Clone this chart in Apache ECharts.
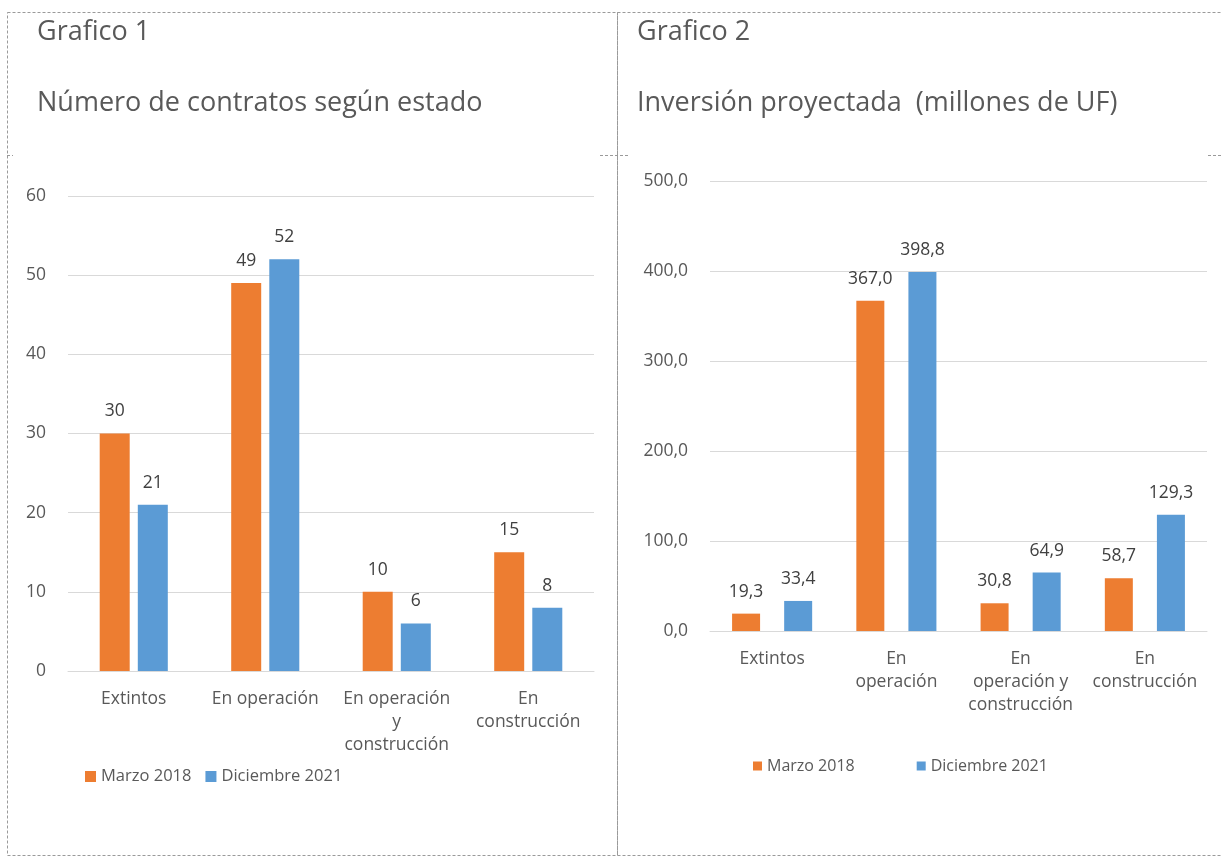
<!DOCTYPE html>
<html>
<head>
<meta charset="utf-8">
<script src="https://cdn.jsdelivr.net/npm/echarts@6/dist/echarts.min.js"></script>
<style>
html,body{margin:0;padding:0;background:#fff;}
#main{width:1221px;height:860px;}
</style>
</head>
<body>
<div id="main"></div>
<script>
// ---- data ----
var seriesNames = ['Marzo 2018', 'Diciembre 2021'];
var categories1 = ['Extintos', 'En operación', 'En operación y construcción', 'En construcción'];
var catLabels1 = ['Extintos', 'En operación', 'En operación\ny\nconstrucción', 'En\nconstrucción'];
var contratosMarzo2018 = [30, 49, 10, 15];
var contratosDic2021 = [21, 52, 6, 8];
var yTicks1 = [0, 10, 20, 30, 40, 50, 60];

var categories2 = ['Extintos', 'En operación', 'En operación y construcción', 'En construcción'];
var catLabels2 = ['Extintos', 'En\noperación', 'En\noperación y\nconstrucción', 'En\nconstrucción'];
var inversionMarzo2018 = [19.3, 367.0, 30.8, 58.7];
var inversionDic2021 = [33.4, 398.8, 64.9, 129.3];
var yTicks2 = [0, 100, 200, 300, 400, 500];

var titles = ['Grafico 1', 'Número de contratos según estado', 'Grafico 2', 'Inversión proyectada  (millones de UF)'];

// ---- chart ----
var FONT = '"Open Sans", "Noto Sans", sans-serif';
var ORANGE = '#ED7D31', BLUE = '#5B9BD5';
var TXT = '#595959';
var comma1 = function (v) { return Number(v).toFixed(1).replace('.', ','); };

var chart = echarts.init(document.getElementById('main'), null, {renderer: 'canvas'});

function catAxis(gi, cats, labels) {
  return {
    type: 'category', gridIndex: gi, data: cats,
    axisTick: {show: false},
    axisLine: {lineStyle: {color: '#d9d9d9', width: 1}},
    axisLabel: {
      interval: 0, color: TXT, fontFamily: FONT, fontSize: 17.5, lineHeight: 23, margin: 17,
      formatter: function (v, i) { return labels[i]; }
    }
  };
}
function valAxis(gi, ticks, fmt) {
  return {
    type: 'value', gridIndex: gi, min: ticks[0], max: ticks[ticks.length - 1],
    interval: ticks[1] - ticks[0],
    axisLine: {show: false}, axisTick: {show: false},
    splitLine: {lineStyle: {color: '#d9d9d9', width: 1}},
    axisLabel: {color: TXT, fontFamily: FONT, fontSize: 17.5, margin: 22, formatter: fmt}
  };
}
function barSeries(name, data, xi, gap, fmt) {
  return {
    name: name, type: 'bar', xAxisIndex: xi, yAxisIndex: xi, data: data,
    barWidth: xi === 0 ? 30 : 28, barGap: gap,
    itemStyle: {color: name === seriesNames[0] ? ORANGE : BLUE},
    label: {show: true, position: 'top', distance: 13, color: '#404040', fontFamily: FONT, fontSize: 17.5, formatter: fmt},
    emphasis: {disabled: true}
  };
}

var dash = {stroke: '#9a9a9a', lineWidth: 1, lineDash: [3, 2], fill: null};
var titleStyle = {color: TXT, fontFamily: FONT, fontSize: 27, fontWeight: 'normal'};

chart.setOption({
  animation: false,
  backgroundColor: '#fff',
  title: [
    {text: titles[0], left: 32, top: 14, textStyle: titleStyle},
    {text: titles[1], left: 32, top: 85, textStyle: titleStyle},
    {text: titles[2], left: 632, top: 14, textStyle: titleStyle},
    {text: titles[3], left: 632, top: 85, textStyle: titleStyle}
  ],
  legend: [
    {data: seriesNames, left: 80, top: 763, itemWidth: 11, itemHeight: 11, itemGap: 14, icon: 'rect',
     textStyle: {color: TXT, fontFamily: FONT, fontSize: 16.5}},
    {data: seriesNames, left: 748, top: 753, itemWidth: 9, itemHeight: 9, itemGap: 62, icon: 'rect',
     textStyle: {color: TXT, fontFamily: FONT, fontSize: 16}}
  ],
  grid: [
    {left: 68, right: 627, top: 196, bottom: 189},
    {left: 710, right: 14, top: 181, bottom: 229}
  ],
  xAxis: [catAxis(0, categories1, catLabels1), catAxis(1, categories2, catLabels2)],
  yAxis: [
    valAxis(0, yTicks1, function (v) { return String(v); }),
    valAxis(1, yTicks2, comma1)
  ],
  series: [
    barSeries(seriesNames[0], contratosMarzo2018, 0, '27%', function (p) { return String(p.value); }),
    barSeries(seriesNames[1], contratosDic2021, 0, '27%', function (p) { return String(p.value); }),
    barSeries(seriesNames[0], inversionMarzo2018, 1, '86%', function (p) { return comma1(p.value); }),
    barSeries(seriesNames[1], inversionDic2021, 1, '86%', function (p) { return comma1(p.value); })
  ],
  graphic: [
    {type: 'rect', shape: {x: 7.5, y: 12.5, width: 610, height: 843}, style: dash, silent: true},
    {type: 'rect', shape: {x: 617.5, y: 12.5, width: 620, height: 843}, style: dash, silent: true},
    {type: 'line', shape: {x1: 7, y1: 155.5, x2: 13, y2: 155.5}, style: dash, silent: true},
    {type: 'line', shape: {x1: 600, y1: 155.5, x2: 630, y2: 155.5}, style: dash, silent: true},
    {type: 'line', shape: {x1: 1208, y1: 155.5, x2: 1221, y2: 155.5}, style: dash, silent: true}
  ]
});
</script>
</body>
</html>
